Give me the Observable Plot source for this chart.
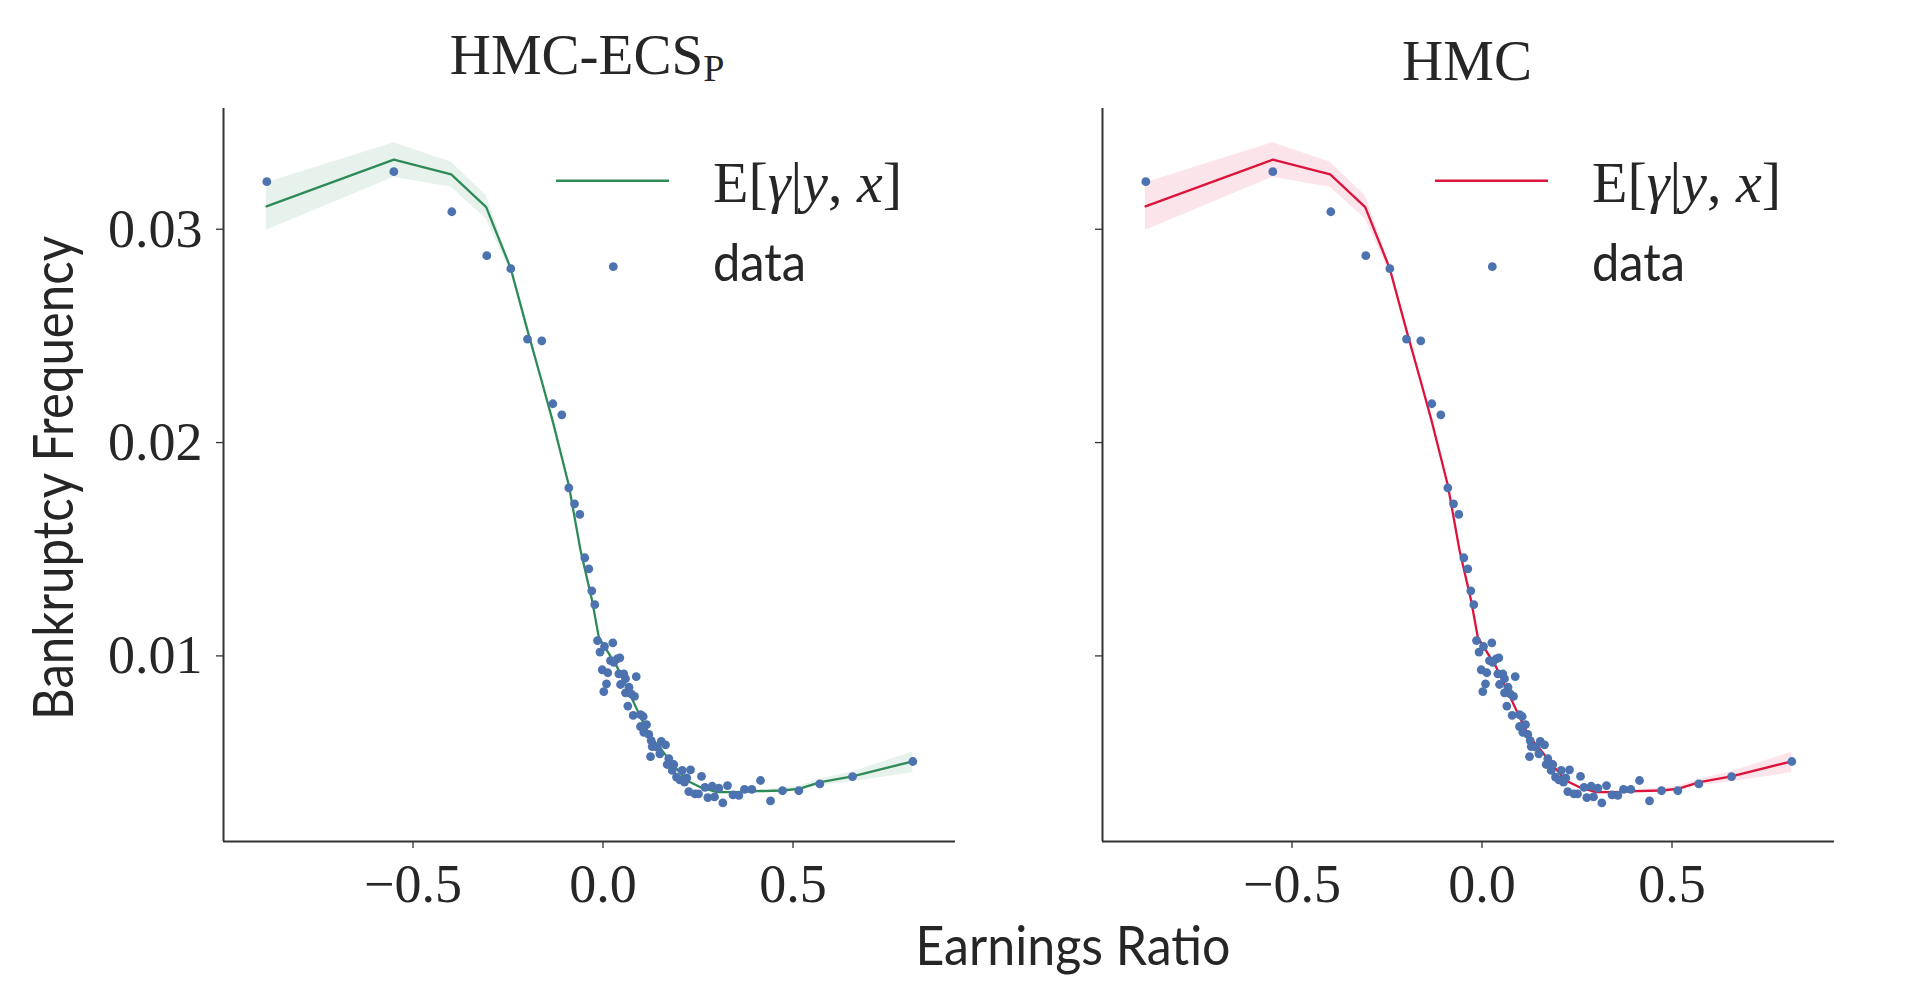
<!DOCTYPE html>
<html>
<head>
<meta charset="utf-8">
<script src="https://cdn.jsdelivr.net/npm/d3@7"></script>
<script src="https://cdn.jsdelivr.net/npm/@observablehq/plot@0.6"></script>
<style>
  html, body { margin: 0; padding: 0; background: #fff; }
  #fig { position: relative; width: 1920px; height: 1003px; overflow: hidden; }
  #fig > div, #fig > svg { position: absolute; top: 0; }
</style>
</head>
<body>
<div id="fig"></div>
<script>
// ---------- data ----------
const panelTitles = ["HMC-ECS", "HMC"];
const xTicks = [-0.5, 0.0, 0.5];
const xTickLabels = ["−0.5", "0.0", "0.5"];
const yTicks = [0.01, 0.02, 0.03];
const yTickLabels = ["0.01", "0.02", "0.03"];
const xDomain = [-0.9987, 0.9276];
const yDomain = [0.0013, 0.03566];

// observed data: earnings ratio
const dataX = [-0.8847,-0.5505,-0.3979,-0.3058,-0.2426,-0.1987,-0.1611,-0.1321,-0.1084,-0.0900,
  -0.0750,-0.0611,-0.0479,-0.0374,-0.0295,-0.0216,-0.0145,0.0258,-0.0079,0.0039,
  0.0197,0.0374,0.0442,0.0284,-0.0021,0.0126,0.0416,0.0547,0.0874,0.0092,
  0.0461,0.0592,0.0684,0.0021,0.0592,0.0829,0.0742,0.0653,0.0795,0.0987,
  0.1058,0.1145,0.0987,0.1074,0.1205,0.1268,0.1295,0.1426,0.1532,0.1645,
  0.1495,0.1250,0.1732,0.1689,0.1863,0.1821,0.2084,0.2303,0.1934,0.2021,
  0.2205,0.2592,0.2145,0.2258,0.2421,0.2513,0.2684,0.2874,0.3047,0.2758,
  0.2934,0.3153,0.3276,0.3421,0.3574,0.3724,0.3916,0.4145,0.4408,0.4724,
  0.5153,0.5705,0.6566,0.8153];
// observed data: bankruptcy frequency
const dataY = [0.03223,0.03270,0.03082,0.02876,0.02815,0.02485,0.02477,0.02182,0.02130,0.01788,
  0.01713,0.01663,0.01460,0.01408,0.01305,0.01240,0.01072,0.01061,0.01018,0.01044,
  0.00978,0.00986,0.00991,0.00970,0.00935,0.00921,0.00916,0.00916,0.00903,0.00869,
  0.00866,0.00893,0.00853,0.00833,0.00827,0.00810,0.00822,0.00765,0.00721,0.00725,
  0.00716,0.00678,0.00669,0.00642,0.00632,0.00603,0.00575,0.00572,0.00599,0.00583,
  0.00541,0.00528,0.00518,0.00491,0.00491,0.00463,0.00463,0.00466,0.00432,0.00419,
  0.00428,0.00435,0.00408,0.00364,0.00353,0.00353,0.00384,0.00389,0.00380,0.00336,
  0.00339,0.00311,0.00392,0.00349,0.00346,0.00374,0.00374,0.00416,0.00320,0.00368,
  0.00368,0.00400,0.00434,0.00505];

// posterior mean curve evaluated at these x
const curveX = [-0.8855,-0.5505,-0.3995,-0.3074,-0.2426,-0.1987,-0.1618,-0.1329,-0.1118,-0.0900,
  -0.0592,-0.0284,-0.0111,0.0021,0.0374,0.0724,0.0987,0.1250,0.1558,0.1863,
  0.2216,0.2566,0.3005,0.3532,0.4058,0.4716,0.5153,0.5724,0.6566,0.8153];
const ecsMean = [0.03107,0.03326,0.03257,0.03104,0.02815,0.02526,0.02291,0.02104,0.01955,0.01800,
  0.01495,0.01257,0.01088,0.01049,0.00947,0.00814,0.00713,0.00619,0.00556,0.00486,
  0.00415,0.00384,0.00361,0.00361,0.00366,0.00369,0.00377,0.00408,0.00435,0.00506];
const ecsLow = [0.02995,0.03244,0.03197,0.03049,0.02795,0.02514,0.02281,0.02095,0.01947,0.01792,
  0.01488,0.01250,0.01081,0.01042,0.00941,0.00808,0.00707,0.00613,0.00550,0.00480,
  0.00409,0.00378,0.00354,0.00354,0.00358,0.00359,0.00365,0.00393,0.00410,0.00452];
const ecsHigh = [0.03218,0.03406,0.03315,0.03158,0.02835,0.02538,0.02301,0.02113,0.01963,0.01808,
  0.01502,0.01264,0.01095,0.01056,0.00953,0.00820,0.00719,0.00625,0.00562,0.00492,
  0.00421,0.00390,0.00368,0.00368,0.00374,0.00379,0.00389,0.00423,0.00457,0.00549];
const hmcMean = [0.03107,0.03326,0.03257,0.03104,0.02815,0.02526,0.02291,0.02104,0.01955,0.01800,
  0.01495,0.01257,0.01088,0.01049,0.00947,0.00814,0.00713,0.00619,0.00556,0.00486,
  0.00415,0.00384,0.00361,0.00361,0.00366,0.00369,0.00377,0.00408,0.00435,0.00506];
const hmcLow = [0.02995,0.03244,0.03197,0.03049,0.02795,0.02514,0.02281,0.02095,0.01947,0.01792,
  0.01488,0.01250,0.01081,0.01042,0.00941,0.00808,0.00707,0.00613,0.00550,0.00480,
  0.00409,0.00378,0.00354,0.00354,0.00358,0.00359,0.00365,0.00393,0.00410,0.00452];
const hmcHigh = [0.03218,0.03406,0.03315,0.03158,0.02835,0.02538,0.02301,0.02113,0.01963,0.01808,
  0.01502,0.01264,0.01095,0.01056,0.00953,0.00820,0.00719,0.00625,0.00562,0.00492,
  0.00421,0.00390,0.00368,0.00368,0.00374,0.00379,0.00389,0.00423,0.00457,0.00549];

const colors = { ecs: "#2e8b57", hmc: "#dc143c", dots: "#4c72b0", ink: "#262626", spine: "#333333" };

// ---------- tables ----------
const points = dataX.map((x, i) => ({ x, y: dataY[i] }));
const ecsCurve = curveX.map((x, i) => ({ x, m: ecsMean[i], lo: ecsLow[i], hi: ecsHigh[i] }));
const hmcCurve = curveX.map((x, i) => ({ x, m: hmcMean[i], lo: hmcLow[i], hi: hmcHigh[i] }));

function panel(curve, color, showYLabels) {
  return Plot.plot({
    width: 980, height: 930,
    marginLeft: 223, marginRight: 25, marginTop: 108, marginBottom: 89,
    style: { fontFamily: "'Liberation Serif', serif", fontSize: "54px", color: colors.ink, background: "transparent", overflow: "visible" },
    x: { domain: xDomain, label: null },
    y: { domain: yDomain, label: null },
    marks: [
      Plot.areaY(curve, { x: "x", y1: "lo", y2: "hi", fill: color, fillOpacity: 0.11 }),
      Plot.line(curve, { x: "x", y: "m", stroke: color, strokeWidth: 2.3 }),
      Plot.dot(points, { x: "x", y: "y", r: 4.4, fill: colors.dots, stroke: "none" }),
      Plot.axisX({ ticks: xTicks, tickFormat: d => xTickLabels[xTicks.indexOf(d)], tickSize: 7, tickPadding: 15,
        fontSize: 54, fontFamily: "'Liberation Serif', serif", stroke: colors.spine, strokeWidth: 1.3, label: null }),
      Plot.axisY({ ticks: yTicks, tickFormat: showYLabels ? (d => yTickLabels[yTicks.indexOf(d)]) : (() => ""), tickSize: 7, tickPadding: 14,
        fontSize: 54, fontFamily: "'Liberation Serif', serif", stroke: colors.spine, strokeWidth: 1.3, label: null }),
      Plot.ruleX([xDomain[0]], { stroke: colors.spine, strokeWidth: 2 }),
      Plot.ruleY([yDomain[0]], { stroke: colors.spine, strokeWidth: 2 })
    ]
  });
}

const fig = document.getElementById("fig");
const p1 = panel(ecsCurve, colors.ecs, true);
p1.style.left = "0px";
fig.appendChild(p1);
const p2 = panel(hmcCurve, colors.hmc, false);
p2.style.left = "879px";
fig.appendChild(p2);

// ---------- text overlay: titles, axis labels, legends ----------
const serif = "'Liberation Serif', serif";
const sans = "Lato, 'Open Sans', sans-serif";
function legend(dx, color) {
  return `
  <line x1="${556 + dx}" x2="${669 + dx}" y1="180.7" y2="180.7" stroke="${color}" stroke-width="2.4"/>
  <circle cx="${613.3 + dx}" cy="266.7" r="4.4" fill="${colors.dots}"/>
  <text x="${713 + dx}" y="201.5" font-family="${serif}" font-size="58" fill="${colors.ink}"><tspan>E[</tspan><tspan font-style="italic">γ</tspan><tspan>|</tspan><tspan font-style="italic">y</tspan><tspan>, </tspan><tspan font-style="italic">x</tspan><tspan>]</tspan></text>
  <text x="${713 + dx}" y="280.7" font-family="${sans}" font-size="53" fill="${colors.ink}" textLength="93" lengthAdjust="spacingAndGlyphs">data</text>`;
}
const overlay = `
<svg width="1920" height="1003" xmlns="http://www.w3.org/2000/svg" style="left:0;pointer-events:none">
  <text x="587" y="74.3" text-anchor="middle" font-family="${serif}" font-size="57" fill="${colors.ink}">${panelTitles[0]}<tspan font-size="38" dy="7">P</tspan></text>
  <text x="1467" y="80" text-anchor="middle" font-family="${serif}" font-size="57" fill="${colors.ink}">${panelTitles[1]}</text>
  <text transform="translate(73,478) rotate(-90)" text-anchor="middle" font-family="${sans}" font-size="56" fill="${colors.ink}" textLength="484" lengthAdjust="spacingAndGlyphs">Bankruptcy Frequency</text>
  <text x="1073" y="965" text-anchor="middle" font-family="${sans}" font-size="54" fill="${colors.ink}" textLength="315" lengthAdjust="spacingAndGlyphs">Earnings Ratio</text>
  ${legend(0, colors.ecs)}
  ${legend(879, colors.hmc)}
</svg>`;
fig.insertAdjacentHTML("beforeend", overlay);
</script>
</body>
</html>
